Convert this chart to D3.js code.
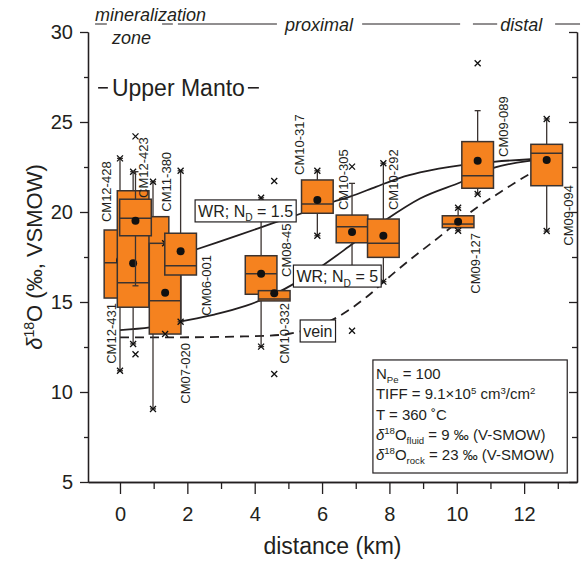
<!DOCTYPE html>
<html>
<head>
<meta charset="utf-8">
<script src="https://cdn.jsdelivr.net/npm/d3@7"></script>
<style>
  body { margin: 0; background: #fff; }
  text { font-family: "Liberation Sans", Arial, sans-serif; fill: #231f20; }
</style>
</head>
<body>
<script>
// box plot per sample, listed in drawing order
const samples = ["CM12-431", "CM11-380", "CM12-428", "CM12-423", "CM07-020", "CM06-001", "CM08-45",
                 "CM10-332", "CM10-317", "CM10-305", "CM10-292", "CM09-127", "CM09-089", "CM09-094"];
const dist  = [0.0, 0.98, 0.39, 0.46, 1.34, 1.8, 4.19, 4.58, 5.86, 6.89, 7.82, 10.04, 10.62, 12.67];
const q1    = [15.22, 14.8, 14.71, 18.68, 13.22, 16.5, 15.43, 15.06, 19.93, 18.29, 17.48, 19.13, 21.32, 21.46];
const med   = [17.18, 16.8, 16.07, 19.65, 15.07, 17.02, 16.57, 15.17, 20.44, 19.18, 18.26, 19.33, 22.02, 23.26];
const q3    = [19.0, 19.74, 21.18, 20.71, 18.26, 18.82, 17.57, 15.63, 21.78, 19.83, 19.61, 19.79, 23.91, 23.76];
const means = [17.3, 16.6, 17.15, 19.52, 15.52, 17.82, 16.57, 15.48, 20.67, 18.89, 18.68, 19.46, 22.85, 22.89];
const whLo  = [11.18, 9.06, 12.67, 15.9, 13.22, 13.9, 12.52, 15.06, 18.68, 17.02, 16.13, 18.96, 21.0, 18.94];
const whHi  = [22.98, 21.68, 22.24, 22.24, 18.26, 22.29, 20.79, 15.63, 22.29, 21.59, 22.71, 20.24, 25.63, 25.17];
const extremes = [[11.18, 22.98], [9.06, 21.68], [12.67, 22.24], [12.1, 24.2], [13.22, 18.26], [13.9, 22.29],
                  [12.52, 20.79], [11.0, 21.72], [18.68, 22.29], [13.4, 22.52], [16.13, 22.71], [18.96, 20.24],
                  [21.0, 28.26], [18.94, 25.17]];

// where each sample name sits (km, per mil) and which end is anchored
const labKm   = [-0.25, 1.39, -0.40, 0.69, 1.93, 2.57, 4.93, 4.87, 5.33, 6.63, 8.12, 10.54, 11.38, 13.31];
const labVal  = [14.94, 20.02, 19.44, 20.78, 12.72, 17.61, 16.39, 14.94, 22.06, 20.11, 20.11, 18.83, 23.06, 21.5];
const labSide = ["end", "start", "start", "start", "end", "end", "start", "end", "start", "start", "start", "end", "start", "end"];

// model curves
const nd15Km  = [0, 1, 2.28, 3.5, 4.5, 5.4, 6.34, 6.83, 7.6, 8.32, 8.91, 10.15, 11.09, 12.2, 12.67];
const nd15Val = [16.4, 17.1, 17.93, 18.7, 19.35, 19.93, 20.57, 20.85, 21.4, 21.9, 22.2, 22.61, 22.79, 22.93, 22.97];
const nd5Km   = [0, 0.89, 1.78, 2.8, 3.73, 4.6, 5.2, 6.04, 6.93, 7.92, 8.91, 10.15, 11.09, 12.2, 12.67];
const nd5Val  = [13.44, 13.59, 13.91, 14.3, 14.78, 15.45, 16.05, 17.06, 18.26, 19.6, 20.75, 21.68, 22.45, 22.85, 22.95];
const veinKm  = [0, 1.78, 3.5, 4.75, 5.6, 6.39, 7.33, 8.12, 8.91, 9.3, 10.0, 10.64, 11.29, 12.2, 12.67];
const veinVal = [13.04, 13.04, 13.08, 13.17, 13.5, 14.09, 15.29, 16.59, 17.79, 18.35, 19.4, 20.3, 21.1, 22.15, 22.6];

const yTicks = [5, 10, 15, 20, 25, 30];
const yMinor = [7.5, 12.5, 17.5, 22.5, 27.5];
const xTicks = [0, 2, 4, 6, 8, 10, 12];
const xMinor = [1, 3, 5, 7, 9, 11, 13];

const width = 582, height = 562;

let svg = d3.select("body").append("svg")
  .attr("width", width).attr("height", height);

let x = d3.scaleLinear().domain([-0.95, 13.57]).range([88, 577]);
let y = d3.scaleLinear().domain([5, 30]).range([482, 32]);

const ink = "#231f20";

function styleAxis(g, size) {
  g.attr("font-family", "Liberation Sans, Arial, sans-serif").attr("font-size", size);
  g.selectAll("path, line").attr("stroke", ink).attr("stroke-width", 1.3);
  g.selectAll("text").attr("fill", ink);
}

// left axis
svg.append("g").attr("transform", "translate(88,0)")
  .call(d3.axisLeft(y).tickValues(yTicks).tickSize(8).tickSizeOuter(0).tickPadding(7))
  .call(g => styleAxis(g, 20));
svg.append("g").attr("transform", "translate(88,0)")
  .call(d3.axisLeft(y).tickValues(yMinor).tickSize(4).tickSizeOuter(0).tickFormat(""))
  .call(g => styleAxis(g, 20));

// right frame, ticks pointing in
svg.append("g").attr("transform", "translate(577,0)")
  .call(d3.axisLeft(y).tickValues(yTicks).tickSize(8).tickSizeOuter(0).tickFormat(""))
  .call(g => styleAxis(g, 20));
svg.append("g").attr("transform", "translate(577,0)")
  .call(d3.axisLeft(y).tickValues(yMinor).tickSize(5).tickSizeOuter(0).tickFormat(""))
  .call(g => styleAxis(g, 20));

// bottom axis
svg.append("g").attr("transform", "translate(0,482)")
  .call(d3.axisBottom(x).tickValues(xTicks).tickSize(12).tickSizeOuter(0).tickPadding(13))
  .call(g => styleAxis(g, 20));
svg.append("g").attr("transform", "translate(0,482)")
  .call(d3.axisBottom(x).tickValues(xMinor).tickSize(7).tickSizeOuter(0).tickFormat(""))
  .call(g => styleAxis(g, 20));

svg.append("text")
  .attr("x", (88 + 577) / 2).attr("y", 554)
  .attr("text-anchor", "middle").attr("font-size", 23)
  .text("distance (km)");

// helper for sub/superscripts in one text element
function rich(sel, parts, size) {
  let cur = 0;
  parts.forEach(p => {
    let shift = p.sub ? size * 0.28 : p.sup ? -size * 0.38 : 0;
    let ts = sel.append("tspan").text(p.t).attr("dy", shift - cur);
    if (p.sub || p.sup) ts.attr("font-size", size * 0.64);
    if (p.i) ts.attr("font-style", "italic");
    cur = shift;
  });
}

let yl = svg.append("text")
  .attr("transform", "translate(42,257) rotate(-90)")
  .attr("text-anchor", "middle").attr("font-size", 22);
rich(yl, [{t: "\u03b4", i: true}, {t: "18", sup: true}, {t: "O (\u2030, VSMOW)"}], 22);

// zone annotation along the top
const zoneSegs = [[-0.74, -0.39], [1.25, 1.57], [1.72, 4.66], [7.19, 10.1], [10.48, 11.2], [12.92, 13.66]];
svg.append("g").selectAll("line").data(zoneSegs).join("line")
  .attr("x1", d => x(d[0])).attr("x2", d => x(d[1]))
  .attr("y1", 24).attr("y2", 24)
  .attr("stroke", ink).attr("stroke-width", 1);
const zoneText = [["mineralization", -0.74, 21], ["zone", -0.24, 44], ["proximal", 4.9, 31], ["distal", 11.29, 31]];
svg.append("g").selectAll("text").data(zoneText).join("text")
  .attr("x", d => x(d[1])).attr("y", d => d[2])
  .attr("font-size", 18).attr("font-style", "italic")
  .text(d => d[0]);

// Upper Manto tag
let um = svg.append("text").attr("x", x(-0.24)).attr("y", y(26.45))
  .attr("font-size", 23).text("Upper Manto");
let umLen = um.node().getComputedTextLength();
svg.append("line").attr("x1", x(-0.65)).attr("x2", x(-0.36))
  .attr("y1", y(26.9)).attr("y2", y(26.9)).attr("stroke", ink).attr("stroke-width", 1.6);
svg.append("line").attr("x1", x(-0.24) + umLen + 3).attr("x2", x(-0.24) + umLen + 14)
  .attr("y1", y(26.9)).attr("y2", y(26.9)).attr("stroke", ink).attr("stroke-width", 1.6);

// model curves
let line = d3.line().x(d => x(d[0])).y(d => y(d[1])).curve(d3.curveMonotoneX);
svg.append("path").datum(d3.zip(nd15Km, nd15Val)).attr("d", line)
  .attr("fill", "none").attr("stroke", ink).attr("stroke-width", 1.8);
svg.append("path").datum(d3.zip(nd5Km, nd5Val)).attr("d", line)
  .attr("fill", "none").attr("stroke", ink).attr("stroke-width", 1.8);
svg.append("path").datum(d3.zip(veinKm, veinVal)).attr("d", line)
  .attr("fill", "none").attr("stroke", ink).attr("stroke-width", 1.8)
  .attr("stroke-dasharray", "9,6");

// boxes
const half = (x(0.94) - x(0)) / 2;
const orange = "#f5821f";
const edge = "#3b3330";
samples.forEach((s, i) => {
  let g = svg.append("g");
  let cx = x(dist[i]);
  g.append("line").attr("x1", cx).attr("x2", cx)
    .attr("y1", y(whLo[i])).attr("y2", y(whHi[i]))
    .attr("stroke", edge).attr("stroke-width", 1.3);
  [whLo[i], whHi[i]].forEach(v => {
    if (v === q1[i] || v === q3[i]) return;
    g.append("line").attr("x1", cx - 3).attr("x2", cx + 3)
      .attr("y1", y(v)).attr("y2", y(v))
      .attr("stroke", edge).attr("stroke-width", 1.3);
  });
  g.append("rect")
    .attr("x", cx - half).attr("width", 2 * half)
    .attr("y", y(q3[i])).attr("height", y(q1[i]) - y(q3[i]))
    .attr("fill", orange).attr("stroke", edge).attr("stroke-width", 1.5);
  g.append("line").attr("x1", cx - half).attr("x2", cx + half)
    .attr("y1", y(med[i])).attr("y2", y(med[i]))
    .attr("stroke", edge).attr("stroke-width", 1.5);
  g.append("circle").attr("cx", cx).attr("cy", y(means[i])).attr("r", 4)
    .attr("fill", "#111");
  g.selectAll("path").data(extremes[i]).join("path")
    .attr("d", v => `M${cx - 3},${y(v) - 3}L${cx + 3},${y(v) + 3}M${cx - 3},${y(v) + 3}L${cx + 3},${y(v) - 3}`)
    .attr("stroke", "#111").attr("stroke-width", 1.3);
});

// sample names
svg.append("g").selectAll("text").data(samples).join("text")
  .attr("transform", (d, i) => `translate(${x(labKm[i])},${y(labVal[i])}) rotate(-90)`)
  .attr("text-anchor", (d, i) => labSide[i])
  .attr("dy", "0.35em").attr("font-size", 13)
  .text(d => d);

// curve tags
const tagParts = [
  [{t: "WR; N"}, {t: "D", sub: true}, {t: " = 1.5"}],
  [{t: "WR; N"}, {t: "D", sub: true}, {t: " = 5"}],
  [{t: "vein"}]
];
const tagKm = [2.23, 5.15, 5.35];
const tagVal = [20.06, 16.44, 13.39];
tagParts.forEach((parts, i) => {
  let g = svg.append("g").attr("transform", `translate(${x(tagKm[i])},${y(tagVal[i])})`);
  let r = g.append("rect");
  let t = g.append("text").attr("x", 3).attr("y", 6).attr("font-size", 16);
  rich(t, parts, 16);
  let b = t.node().getBBox();
  r.attr("x", 0).attr("y", -11).attr("width", b.width + 6).attr("height", 22)
    .attr("fill", "#fff").attr("stroke", ink).attr("stroke-width", 1.2);
});

// model parameters
const paramLines = [
  [{t: "N"}, {t: "Pe", sub: true}, {t: " = 100"}],
  [{t: "TIFF = 9.1\u00d710"}, {t: "5", sup: true}, {t: " cm"}, {t: "3", sup: true}, {t: "/cm"}, {t: "2", sup: true}],
  [{t: "T = 360 \u02daC"}],
  [{t: "\u03b4", i: true}, {t: "18", sup: true}, {t: "O"}, {t: "fluid", sub: true}, {t: " = 9 \u2030 (V-SMOW)"}],
  [{t: "\u03b4", i: true}, {t: "18", sup: true}, {t: "O"}, {t: "rock", sub: true}, {t: " = 23 \u2030 (V-SMOW)"}]
];
svg.append("rect")
  .attr("x", x(7.51)).attr("y", y(11.78))
  .attr("width", x(13.28) - x(7.51)).attr("height", y(5.5) - y(11.78))
  .attr("fill", "#fff").attr("stroke", ink).attr("stroke-width", 1.2);
paramLines.forEach((parts, i) => {
  let t = svg.append("text").attr("x", x(7.51) + 3).attr("y", y(11.78) + 19 + i * 20.3)
    .attr("font-size", 15);
  rich(t, parts, 15);
});
</script>
</body>
</html>
